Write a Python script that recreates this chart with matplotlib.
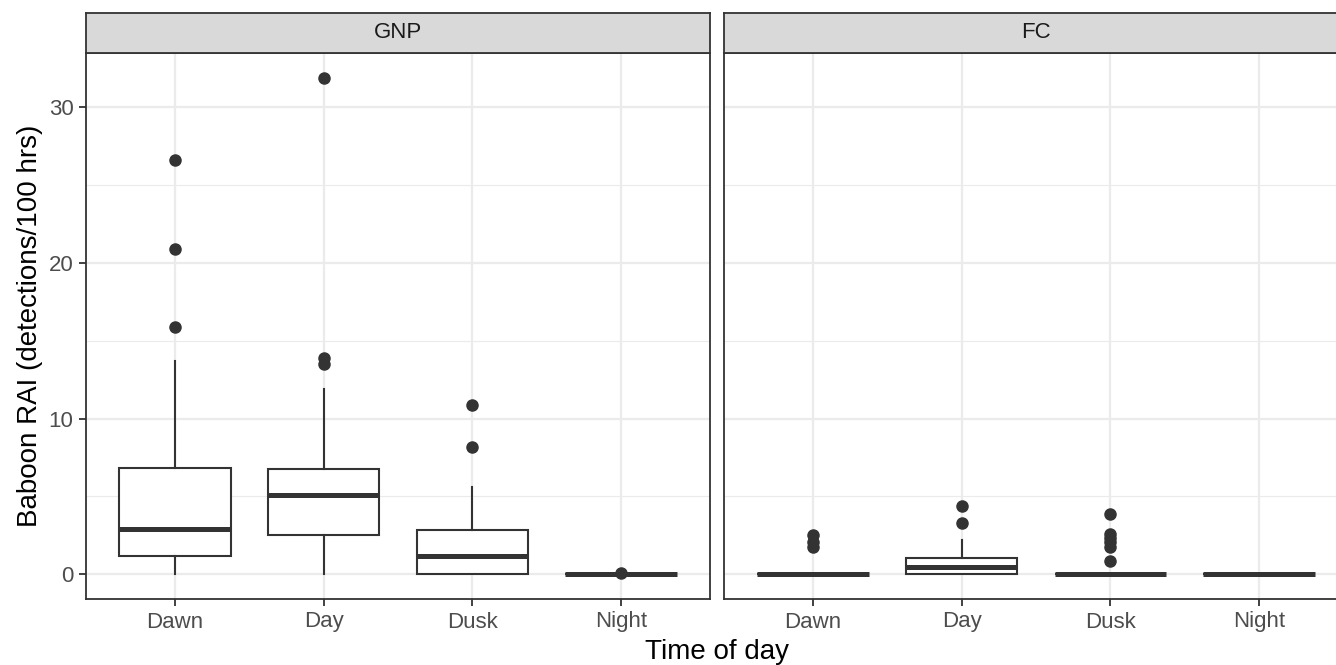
import matplotlib.pyplot as plt

plt.rcParams['font.family'] = ['Liberation Sans', 'DejaVu Sans']

# data (box summary per panel and time of day)
times = ["Dawn", "Day", "Dusk", "Night"]
panels = ["GNP", "FC"]

gnp_q1 = [1.16, 2.5, 0.0, 0.0]
gnp_med = [2.9, 5.07, 1.16, 0.0]
gnp_q3 = [6.8, 6.75, 2.83, 0.0]
gnp_lo = [0.0, 0.0, 0.0, 0.0]
gnp_hi = [13.7, 11.9, 5.6, 0.0]
gnp_out = [[26.6, 20.9, 15.9], [31.9, 13.9, 13.5], [10.85, 8.16], [0.07]]

fc_q1 = [0.0, 0.0, 0.0, 0.0]
fc_med = [0.0, 0.45, 0.0, 0.0]
fc_q3 = [0.0, 1.03, 0.0, 0.0]
fc_lo = [0.0, 0.0, 0.0, 0.0]
fc_hi = [0.0, 2.18, 0.0, 0.0]
fc_out = [[2.5, 2.05, 1.73], [4.37, 3.28], [3.85, 2.57, 2.3, 2.05, 1.75, 0.84], []]

W, H = 1336, 665
fig = plt.figure(figsize=(W / 100, H / 100), dpi=100)

dark = "#333333"
grid_c = "#EBEBEB"


def make_stats(q1, med, q3, lo, hi, out):
    return [dict(q1=a, med=b, q3=c, whislo=d, whishi=e, fliers=f)
            for a, b, c, d, e, f in zip(q1, med, q3, lo, hi, out)]


series = [
    make_stats(gnp_q1, gnp_med, gnp_q3, gnp_lo, gnp_hi, gnp_out),
    make_stats(fc_q1, fc_med, fc_q3, fc_lo, fc_hi, fc_out),
]

# panel geometry in pixels (right panel runs past the image edge, as in the reference)
px_left = [86, 724]
pw = 624
top, bottom = 53, 599
strip_top = 13

for i, (name, stats) in enumerate(zip(panels, series)):
    ax = fig.add_axes([px_left[i] / W, (H - bottom) / H, pw / W, (bottom - top) / H])
    ax.set_facecolor("white")
    pos = list(range(1, len(times) + 1))
    ax.bxp(stats, positions=pos, widths=0.75, showcaps=False, patch_artist=True,
           boxprops=dict(facecolor="white", edgecolor=dark, linewidth=1.5),
           whiskerprops=dict(color=dark, linewidth=1.5),
           medianprops=dict(color=dark, linewidth=3.6, solid_capstyle="butt"),
           flierprops=dict(marker="o", markerfacecolor=dark, markeredgecolor=dark,
                           markersize=8, linestyle="none"),
           zorder=3)
    ax.set_xlim(0.4, 4.6)
    ax.set_ylim(-1.6, 33.5)
    ax.set_yticks([0, 10, 20, 30])
    ax.set_yticks([5, 15, 25], minor=True)
    ax.set_xticks(pos)
    ax.set_xticklabels(times)
    ax.grid(True, which="major", color=grid_c, linewidth=1.6, zorder=0)
    ax.grid(True, which="minor", axis="y", color=grid_c, linewidth=0.8, zorder=0)
    ax.set_axisbelow(True)
    for s in ax.spines.values():
        s.set_color(dark)
        s.set_linewidth(1.3)
    ax.tick_params(which="major", length=5, width=1.3, color=dark,
                   labelsize=16, labelcolor="#4D4D4D", pad=4)
    ax.tick_params(which="minor", length=0)
    if i == 1:
        ax.tick_params(axis="y", which="both", left=False, labelleft=False)

    # facet strip
    sax = fig.add_axes([px_left[i] / W, (H - top) / H, pw / W, (top - strip_top) / H])
    sax.set_facecolor("#D9D9D9")
    sax.set_xticks([])
    sax.set_yticks([])
    for s in sax.spines.values():
        s.set_color(dark)
        s.set_linewidth(1.3)
    sax.text(0.5, 0.5, name, ha="center", va="center", fontsize=16,
             color="#1A1A1A", transform=sax.transAxes)

fig.text(37 / W, 1 - ((top + bottom) / 2) / H, "Baboon RAI (detections/100 hrs)",
         rotation=90, rotation_mode="anchor", ha="center", va="baseline",
         fontsize=20, color="black")
fig.text(717 / W, 1 - 659 / H, "Time of day", ha="center", va="baseline",
         fontsize=20, color="black")

fig.savefig("out.png", dpi=100, facecolor="white")
